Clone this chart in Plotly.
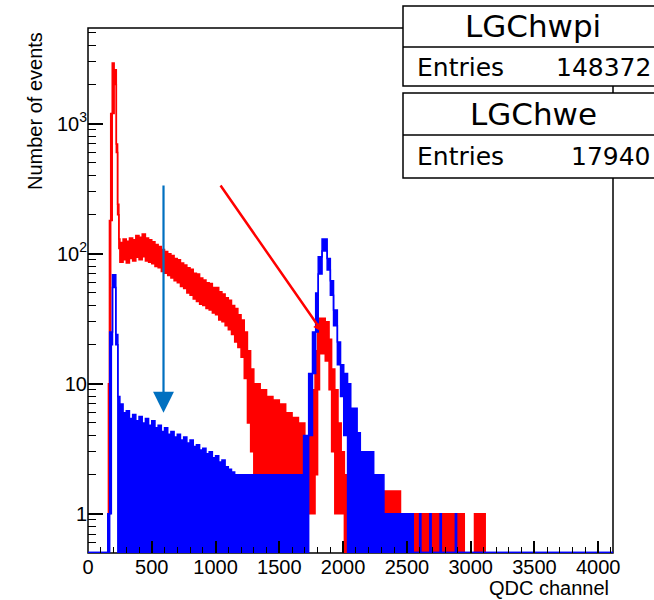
import math
import plotly.graph_objects as go

# ---------------- data ----------------
# LGChwpi (red): bin edges in QDC channels, upper / lower envelope of the noisy histogram
pi_edges = [150, 160, 168, 178, 190, 205, 222, 232, 242,
            250, 275, 300, 325, 350, 375, 400, 425, 450, 475, 500, 525, 550, 575, 600, 625,
            650, 675, 700, 725, 750, 775, 800, 825, 850, 875, 900, 925, 950, 975, 1000, 1025,
            1050, 1075, 1100, 1125, 1150, 1175, 1200, 1225, 1250, 1275,
            1300, 1350, 1400, 1450, 1500, 1550, 1600, 1650, 1700, 1735, 1760, 1780, 1800, 1815,
            1860, 1890, 1910, 1935, 1960, 1985, 2010, 2200, 2450, 2950, 3030, 3120]
pi_hi = [1, 10, 180, 1200, 2930, 2600, 700, 240, 130,
         122, 130, 125, 132, 128, 138, 134, 142, 132, 128, 124, 118, 114, 108, 104, 100,
         97, 92, 90, 85, 82, 78, 76, 71, 70, 65, 63, 60, 59, 55, 55, 51,
         49, 46, 44, 40, 38, 34, 31, 25, 18, 13,
         10, 9, 8, 7.5, 7, 6, 5.5, 5, 3, 4, 9, 18, 28, 32,
         30, 22, 13, 9, 5, 3, 2, 1.5, 1, 0, 1]
pi_lo = [0, 1, 10, 180, 1200, 2000, 600, 200, 110,
         86, 90, 85, 92, 88, 94, 90, 95, 88, 86, 84, 80, 78, 73, 71, 68,
         65, 62, 60, 56, 54, 50, 48, 45, 43, 41, 40, 38, 37, 35, 34, 31,
         30, 28, 26, 24, 21, 19, 16, 11, 5, 3,
         2, 2, 2, 2, 2, 1.8, 1.5, 1.2, 1, 1, 1, 2, 9, 17,
         15, 9, 3, 1, 1, 1, 0, 0, 0, 0, 0]

# LGChwe (blue)
e_edges = [0, 155, 170, 183, 192, 218, 234,
           250, 275, 300, 325, 350, 375, 400, 425, 450, 475, 500, 525, 550, 575, 600, 625,
           650, 675, 700, 725, 750, 775, 800, 825, 850, 875, 900, 925, 950, 975, 1000, 1025,
           1050, 1075, 1100, 1125,
           1150, 1690, 1730, 1760, 1785, 1805, 1835, 1875, 1900, 1925,
           1955, 1980, 2005, 2035, 2060, 2110, 2135, 2240, 2320, 2550, 2600, 2610, 2680,
           2690, 2760, 2770, 2880, 2890, 4116]
e_hi = [0, 1, 25, 25, 69, 24, 8,
        7, 6, 6.2, 5.4, 5.8, 5.2, 5.6, 5, 5.4, 4.8, 5.2, 4.6, 4.8, 4.3, 4.6, 4.1,
        4.3, 3.9, 4.1, 3.7, 3.9, 3.5, 3.7, 3.3, 3.4, 3.1, 3.2, 2.9, 3, 2.7, 2.8, 2.5,
        2.6, 2.3, 2.2, 2.1,
        2, 4, 12, 25, 50, 95, 130, 92, 62, 37,
        21, 14, 12, 10, 6.5, 4.2, 3, 2, 1, 0, 1, 0, 1,
        0, 1, 0, 1, 0]
e_lo = [0, 0, 1, 20, 55, 20, 0,
        0, 0, 0, 0, 0, 0, 0, 0, 0, 0, 0, 0, 0, 0, 0, 0,
        0, 0, 0, 0, 0, 0, 0, 0, 0, 0, 0, 0, 0, 0, 0, 0,
        0, 0, 0, 0,
        0, 0, 4, 12, 25, 70, 105, 75, 48, 28,
        14, 8, 4, 0, 0, 0, 0, 0, 0, 0, 0, 0, 0,
        0, 0, 0, 0, 0]

assert len(pi_hi) == len(pi_lo) == len(pi_edges) - 1
assert len(e_hi) == len(e_lo) == len(e_edges) - 1

entries_pi = 148372
entries_e = 17940

x_ticks = [0, 500, 1000, 1500, 2000, 2500, 3000, 3500, 4000]
y_ticks = [1, 10, 100, 1000]
y_ticktext = ["1", "10", "10<sup>2</sup>", "10<sup>3</sup>"]

X_MAX = 4116
Y_MIN, Y_MAX = 0.5, 5450

# ---------------- figure ----------------
W, H = 654, 600
ML, MR, MT, MB = 88, 41, 28, 47
PW, PH = W - ML - MR, H - MT - MB


def px(xp):
    return (xp - ML) / PW


def py(yp):
    return (H - MB - yp) / PH


def band_traces(edges, hi, lo, floor, color, name):
    xs = list(edges)
    hy = [max(v, floor) for v in hi] + [max(hi[-1], floor)]
    ly = [max(v, floor) for v in lo] + [max(lo[-1], floor)]
    t_lo = go.Scatter(x=xs, y=ly, mode="lines", line=dict(color=color, width=1.5, shape="hv"),
                      hoverinfo="skip", showlegend=False, name=name + " lo")
    t_hi = go.Scatter(x=xs, y=hy, mode="lines", line=dict(color=color, width=1.5, shape="hv"),
                      fill="tonexty", fillcolor=color, showlegend=False, name=name)
    return [t_lo, t_hi]


fig = go.Figure()
for t in band_traces(pi_edges, pi_hi, pi_lo, 0.3, "#FF0000", "LGChwpi"):
    fig.add_trace(t)
for t in band_traces(e_edges, e_hi, e_lo, 0.505, "#0000FF", "LGChwe"):
    fig.add_trace(t)

font_axis = dict(family="Liberation Sans, Arial, sans-serif", size=20, color="black")

minor_y = []
for dec in [0.1, 1, 10, 100, 1000]:
    for k in range(2, 10):
        v = k * dec
        if Y_MIN <= v <= Y_MAX:
            minor_y.append(v)

fig.update_xaxes(range=[0, X_MAX], tickvals=x_ticks, ticks="inside", ticklen=12, tickwidth=1.5,
                 tickcolor="black", showgrid=False, zeroline=False, showline=False,
                 tickfont=font_axis,
                 minor=dict(ticks="inside", ticklen=6, tickwidth=1.2, tickcolor="black",
                            dtick=100, tick0=0, showgrid=False))
fig.update_yaxes(type="log", range=[math.log10(Y_MIN), math.log10(Y_MAX)], tickvals=y_ticks,
                 ticktext=y_ticktext, ticks="inside", ticklen=15, tickwidth=1.5,
                 tickcolor="black", showgrid=False, zeroline=False, showline=False,
                 tickfont=font_axis,
                 minor=dict(ticks="inside", ticklen=8, tickwidth=1.2, tickcolor="black",
                            tickmode="array", tickvals=minor_y, showgrid=False))

shapes = [
    # frame
    dict(type="rect", xref="paper", yref="paper", x0=0, x1=1, y0=0, y1=1,
         line=dict(color="black", width=1.5), layer="below"),
    # stats box 1
    dict(type="rect", xref="paper", yref="paper", x0=px(403), x1=px(660), y0=py(86), y1=py(6),
         line=dict(color="black", width=1.5), fillcolor="white", layer="above"),
    dict(type="line", xref="paper", yref="paper", x0=px(403), x1=px(660), y0=py(47), y1=py(47),
         line=dict(color="black", width=1.5), layer="above"),
    # stats box 2
    dict(type="rect", xref="paper", yref="paper", x0=px(403), x1=px(660), y0=py(178), y1=py(93),
         line=dict(color="black", width=1.5), fillcolor="white", layer="above"),
    dict(type="line", xref="paper", yref="paper", x0=px(403), x1=px(660), y0=py(135), y1=py(135),
         line=dict(color="black", width=1.5), layer="above"),
]

stat_title = dict(family="DejaVu Sans, sans-serif", size=31, color="black")
stat_font = dict(family="DejaVu Sans, sans-serif", size=25, color="black")

annotations = [
    dict(text="LGChwpi", xref="paper", yref="paper", x=px(533), y=py(26), xanchor="center",
         yanchor="middle", showarrow=False, font=stat_title),
    dict(text="Entries", xref="paper", yref="paper", x=px(415), y=py(67), xanchor="left",
         yanchor="middle", showarrow=False, font=stat_font),
    dict(text=str(entries_pi), xref="paper", yref="paper", x=px(653), y=py(67), xanchor="right",
         yanchor="middle", showarrow=False, font=stat_font),
    dict(text="LGChwe", xref="paper", yref="paper", x=px(533), y=py(114), xanchor="center",
         yanchor="middle", showarrow=False, font=stat_title),
    dict(text="Entries", xref="paper", yref="paper", x=px(415), y=py(157), xanchor="left",
         yanchor="middle", showarrow=False, font=stat_font),
    dict(text=str(entries_e), xref="paper", yref="paper", x=px(653), y=py(157), xanchor="right",
         yanchor="middle", showarrow=False, font=stat_font),
    # axis titles
    dict(text="Number of events", xref="paper", yref="paper", x=px(35), y=py(111),
         xanchor="center", yanchor="middle", textangle=-90, showarrow=False, font=font_axis),
    dict(text="QDC channel", xref="paper", yref="paper", x=px(611), y=py(588),
         xanchor="right", yanchor="middle", showarrow=False, font=font_axis),
    # arrows
    dict(x=592, y=math.log10(6.0), ax=592, ay=math.log10(344), xref="x", yref="y",
         axref="x", ayref="y", text="", showarrow=True, arrowhead=2, arrowsize=1.9,
         arrowwidth=2.2, arrowcolor="#0070C0"),
    dict(x=1838, y=math.log10(25), ax=1031, ay=math.log10(344), xref="x", yref="y",
         axref="x", ayref="y", text="", showarrow=True, arrowhead=2, arrowsize=0.75,
         arrowwidth=2.5, arrowcolor="#FF0000"),
]

fig.update_layout(width=W, height=H, margin=dict(l=ML, r=MR, t=MT, b=MB, autoexpand=False),
                  paper_bgcolor="white", plot_bgcolor="white", showlegend=False,
                  shapes=shapes, annotations=annotations)

fig.write_html("out.html")
